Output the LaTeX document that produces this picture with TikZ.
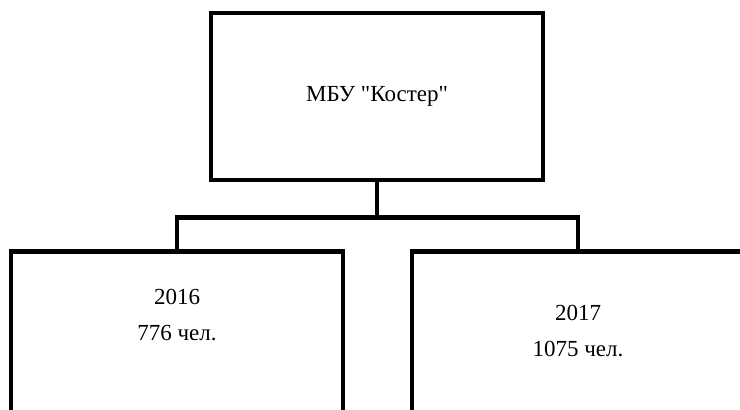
\documentclass[tikz,border=0pt]{standalone}
\usepackage{fontspec}
\newfontfamily\timesrm{Liberation Serif}
\usetikzlibrary{positioning}
\tikzstyle{box} = [rectangle, draw, line width=4.5pt, minimum width=332pt,
    inner sep=0pt, font=\timesrm\fontsize{23}{36}\selectfont]
\tikzstyle{txt} = [align=center, inner sep=0pt, font=\timesrm\fontsize{23}{36}\selectfont]
\tikzstyle{line} = [draw, line width=4.5pt]

\begin{document}
\begin{tikzpicture}[x=1pt, y=1pt]
	\clip (0,0) rectangle (740,-410);

		\node [box, minimum height=167pt] (kost) at (377,-96.5) {МБУ "Костер"};

		\node [box, minimum height=220pt, anchor=north] (y16) at (177,-249) {};
		\node [box, minimum height=220pt, anchor=north] (y17) at (578,-249) {};

		\node [txt, below=40pt of y16.north] (n16) {2016\\776 чел.};
		\node [txt, below=56pt of y17.north] (n17) {2017\\1075 чел.};

		\path [line] (kost.south) -- ++(0,-35) -| (y16.north);
		\path [line] (kost.south) -- ++(0,-35) -| (y17.north);
\end{tikzpicture}
\end{document}
